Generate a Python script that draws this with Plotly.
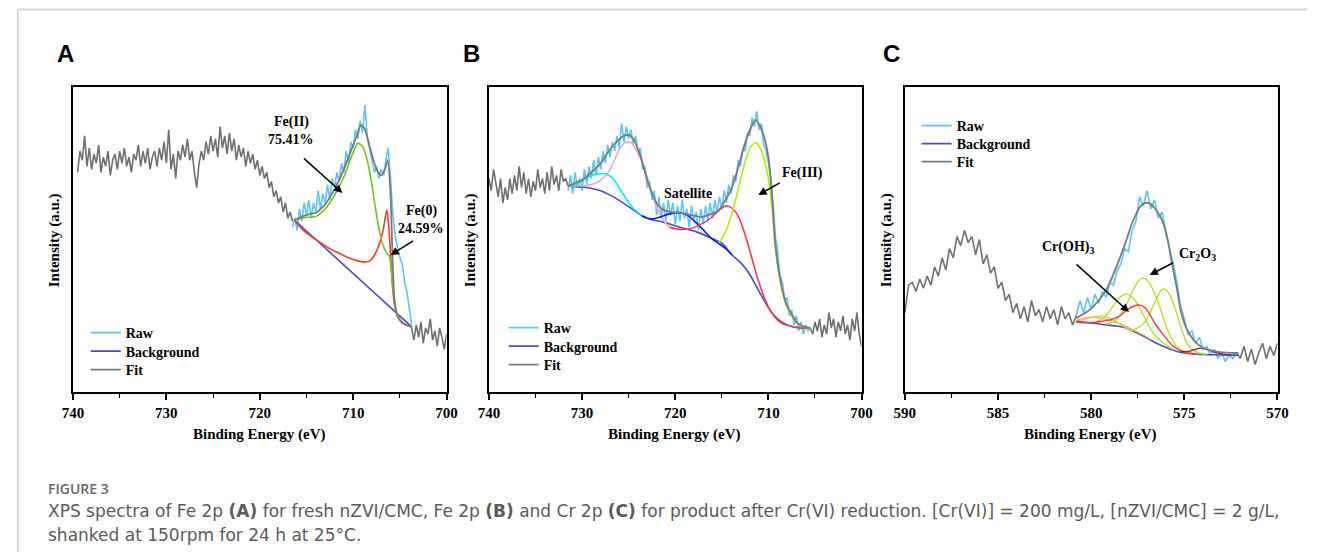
import plotly.graph_objects as go

W, H = 1318, 552

# ---------------- DATA ----------------
# Panel A (Fe 2p, fresh nZVI/CMC)
A_SURV_LEFT_E0, A_STEP = 739.5, -0.25
A_SURV_LEFT = [72,79,76,84,74,80,73,78,75,81, 72,77,74,79,71,76,78,73,79,75,
               80,74,77,72,78,76,81,74,79,75, 80,73,77,79,74,80,76,82,75,86,
               73,78,70,79,76,81,77,83,76,79, 72,67,75,79,76,82,78,84,79,83,
               77,87,80,84,78,85,79,83,76,81, 77,80,74,79,75,78,73,76,71,74,
               70,72,67,69,64,66,62,64,59,62, 57,59,56]
A_RAW_E0 = 716.5
A_RAW = [54,57,53,60,56,62,58,63,57,62, 59,66,60,65,62,68,63,70,67,72,
         69,75,72,79,75,82,80,86,83,89, 85,94,84,80,76,72,74,70,73,71,
         76,80,70,58,51,47,44,42,36,33, 27,22]
A_SURV_RIGHT_E0 = 703.75
A_SURV_RIGHT = [21,17,22,18,23,16,21,19,24,17,20,15,21,18,14,19]

A_BG_E = [716.3, 703.7]
A_BG = [56.4, 21.3]
A_FIT_E = [716.3,715.5,714.5,714.0,713.0,712.0,711.0,710.0,709.5,709.2,708.8,708.2,707.5,707.0,706.6,706.3,706.0,705.8,705.6,705.3,704.8,704.2,703.7]
A_FIT = [56.4,57.5,58.5,58.7,61.5,66.5,73,81,85,87.5,86.5,80,73,71,73,76,65,45,31,25,22.8,21.8,21.3]
A_FE2_E = [716.3,715.5,714.5,714.0,713.0,712.0,711.0,710.2,709.5,709.0,708.5,708.0,707.6,707.2,706.8,706.4,706.1,705.8,705.5,705.2,704.8,704.3,703.7]
A_FE2 = [56.4,57,57.4,57.5,60,64.5,70.5,77,81.6,80.5,76,68,60,53,48,45.5,44.3,36,28,25,23,22,21.3]
A_FE0_E = [716.3,715.5,714.5,713.5,712.5,711.5,710.5,709.5,708.7,708.2,707.7,707.2,706.8,706.4,706.2,706.0,705.8,705.6,705.3,704.8,704.2,703.7]
A_FE0 = [56.4,53.5,51,49,47,45.5,44,43,42.6,43,45,48.5,53,59.7,55,45,35,29,25.5,23,21.8,21.3]

# Panel B (Fe 2p after Cr(VI) reduction)
B_SURV_LEFT_E0 = 740.0
B_SURV_LEFT = [70,66,73,68,64,70,62,67,63,70, 65,71,66,74,67,72,65,70,64,69,
               66,73,67,70,65,72,66,74,68,71, 66,73,69,70,67.5]
B_RAW_E0 = 731.5
B_RAW = [66,71,65,72,67,70,66,73,68,74, 70,76,71,77,73,79,75,81,77,82,
         79,84,80,88,82,87,83,86,81,84, 78,80,73,74,67,69,63,66,58,64,
         57,62,56,63,58,62,55,61,56,63, 57,60,54,61,56,59,53,60,55,61,
         56,62,57,63,59,64,60,66,62,68, 65,71,69,76,74,80,79,85,84,90,
         87,92,86,88,81,79,75,70,62,51, 46,38,36,30,31,25,27,22,25,20,
         23,19,22,20,21]
B_SURV_RIGHT_E0 = 705.5
B_SURV_RIGHT = [21,19,23,20,24,18,22,19,26,21,24,18,23,20,25,19,22,17,24,20,26,19,15]

B_BG_E = [731.5,730.0,728.0,726.6,725.0,723.7,722.5,721.3,719.5,717.7,716.4,715.0,713.9,713.0,712.1,711.0,710.3,709.5,708.6,707.5,706.5,705.5]
B_BG = [67.5,67.2,66.0,63.9,60.8,58.0,56.5,55.7,54.0,52.5,50.8,48.8,44.9,42.5,39,33,29.2,25.5,23,21.5,21,21]
B_FIT_E = [731.5,730.8,730.0,729.0,728.0,727.2,726.3,725.5,725.0,724.4,723.7,723.1,722.5,721.9,721.3,720.4,719.5,718.3,717.1,716.2,715.3,714.6,713.9,713.2,712.5,711.9,711.4,711.0,710.5,710.0,709.6,709.3,709.0,708.6,708.1,707.6,707.0,706.3,705.5]
B_FIT = [67.5,68.5,69.5,72,75,78.7,82,84,84.3,82.5,77,70.5,65.2,61.5,59.8,59,58.7,58,57.4,58.3,59.7,63,67.2,74,81.6,86.5,89.2,87.8,84,77,64,50,42,35,29,26,23,21.5,21]
B_FE3_E = [715.3,714.6,713.9,713.4,712.9,712.3,711.8,711.3,710.8,710.3,710.0,709.6,709.3,709.0,708.6,708.1,707.6,707.0,706.3,705.5]
B_FE3 = [48.8,52.5,58.7,64.5,71,77.5,80.8,81.6,79.5,74.5,70,60,48.5,41,34.4,28.5,25.5,22.8,21.3,21]
B_RED_E = [720.6,719.5,718.3,717.1,716.4,715.6,714.9,714.4,713.8,713.2,712.6,712.1,711.6,711.1,710.5,710.0,709.3,708.6,707.5,706.5,705.5]
B_RED = [54,53.3,53.6,55.2,56.5,58.7,60.6,61,60,57.4,52.5,47.5,42,36.7,31.5,27.9,24.5,22.6,21.5,21.1,21]
B_CYAN_E = [731.5,730.5,729.7,729.0,728.2,727.4,726.7,726.0,725.3,724.6,723.6]
B_CYAN = [67.5,68.3,69.8,71,71.6,71.5,70,67,63.5,60.5,57.8]
B_SAT_E = [723.6,723.0,722.3,721.5,720.6,719.8,719.2,718.5,717.8,717.1,716.4,715.7,715.0,714.3,713.9]
B_SAT = [57.8,57,56.8,57.5,58.4,58.8,58.6,57.6,55.6,53.5,51.2,49.4,48,46.2,44.9]
B_PINK_E = [731.5,730.5,729.5,728.7,728.0,727.2,726.6,726.0,725.5,724.8,724.3,723.7,723.0,722.0,721.2,720.6,719.5]
B_PINK = [67.5,67.6,67.8,68.3,69.5,72,75.5,79.5,81.5,82,80,76.5,70.5,60.7,56,54,53.1]

# Panel C (Cr 2p)
C_SURV_LEFT_E0, C_STEP = 590.0, -0.2
C_SURV_LEFT = [26,35,36,33,37,34,38,35,41,38, 44,40,47,44,51,48,53,49,51,45,
               50,42,45,39,41,34,36,30,32,26, 29,24,28,23,30,25,27,23,28,24,
               27,22,28,24,26,22,25]
C_RAW_E0 = 580.8
C_RAW = [25,30,26,31,27,32,29,33,31,36, 35,40,42,47,46,53,56,64,61,66,
         60,63,57,59,53,48,42,36,28,24, 19,20,16,18,14,15,12,14,11,13,
         10,12,11,13]
C_SURV_RIGHT_E0 = 572.2
C_SURV_RIGHT = [13,11,15,10,14,9,13,16,11,15,12,16]

C_BG_E = [580.8,580.0,579.2,578.3,577.7,577.1,576.5,575.9,575.4,575.0,574.3,573.5,572.1]
C_BG = [23,22.6,22,21.3,19.8,18,16,14.4,13.3,12.8,12.4,12.2,12.1]
C_FIT_E = [580.8,580.3,579.9,579.2,578.5,578.1,577.8,577.4,577.1,576.8,576.5,576.2,575.9,575.7,575.4,575.2,574.9,574.5,574.0,573.1,572.1]
C_FIT = [24.3,26,27.9,33.4,43.3,50,55.4,60.5,62,61.6,59.5,56.4,50,43.3,34,26.9,21,17,14.5,13.1,12.8]
C_G1_E = [579.2,578.7,578.3,578.0,577.7,577.4,577.2,576.9,576.6,576.3,576.0,575.7,575.4,575.0,574.5]
C_G1 = [22.2,23.5,26.5,30,34,36.8,37.4,36,32.5,27.5,22,17.8,14.8,13.2,12.6]
C_G2_E = [577.9,577.5,577.1,576.8,576.5,576.3,576.1,575.8,575.5,575.2,574.9,574.6,574.2,573.8]
C_G2 = [20,21,23,26.5,30.5,33,33.8,32,27.5,21.5,16.5,14,12.8,12.4]
C_G3_E = [579.8,579.3,578.9,578.5,578.1,577.7,577.4,577.1,576.8,576.5,576.1,575.6]
C_G3 = [22.8,24.5,27.5,30.8,32.1,30.5,27.5,24,20.5,18,16,14]
C_G4_E = [580.8,580.2,579.7,579.4,579.0,578.6,578.2,577.8]
C_G4 = [23.3,24,24.8,24.9,24.2,22.8,21.3,20]
C_OR_E = [580.8,580.3,579.8,579.3,578.8,578.3,577.8,577.3,576.8]
C_OR = [23.5,24.3,24.5,24,23,22,20.5,19,17.2]
C_RED_E = [580.8,580.0,579.4,578.9,578.5,578.1,577.7,577.4,577.1,576.8,576.5,576.2,575.9,575.6,575.2,574.8,574.3]
C_RED = [23.2,22.8,23.2,23.8,24.8,26.8,28.2,28.5,27.6,24.8,21.8,19.3,17,15,13.6,12.8,12.4]
C_SMALL_E = [575.2,574.8,574.4,574.1,573.8,573.4,573.0,572.5]
C_SMALL = [13.3,13.3,14,14.4,14,13.1,12.5,12.2]

LEGEND_NAMES = ["Raw", "Background", "Fit"]
X_TICKS_FE = [740, 730, 720, 710, 700]
X_TICKS_CR = [590, 585, 580, 575, 570]

# ---------------- STYLE ----------------
SERIF = "Liberation Serif"
C_RAWCOL = "#5cc6f2"
C_BGCOL = "#4b4bc4"
C_FITCOL = "#7a7a7a"
C_SURV = "#6f6f6f"

# legend rows (pixel positions): panel -> (line start x, [row centre y])
LEG_POS = {"A": (83, [333, 351.5, 370]),
           "B": (508, [328, 346.5, 365]),
           "C": (928, [126, 144, 162])}


def grid(e0, step, n):
    return [round(e0 + step * i, 3) for i in range(n)]


def px(x):
    return x / W


def py(y):
    return 1 - y / H


fig = go.Figure()
legend_layout = {}
leg_counter = [0]


def add(xs, ys, color, xa, ya, name=None, panel=None, width=1.6, shape="linear", smooth=0.0):
    kw = dict(x=xs, y=ys, mode="lines", xaxis=xa, yaxis=ya,
              line=dict(color=color, width=width, shape=shape),
              hoverinfo="skip")
    if shape == "spline":
        kw["line"]["smoothing"] = smooth
    if name:
        leg_counter[0] += 1
        key = "legend" if leg_counter[0] == 1 else "legend%d" % leg_counter[0]
        lx, rows = LEG_POS[panel]
        ry = rows[LEGEND_NAMES.index(name)]
        legend_layout[key] = dict(x=px(lx - 7), y=py(ry), xanchor="left", yanchor="middle",
                                  bgcolor="rgba(0,0,0,0)", borderwidth=0,
                                  font=dict(family=SERIF, size=14, color="black", weight="bold"),
                                  itemwidth=30)
        kw.update(name=name, showlegend=True, legend=key)
    else:
        kw.update(showlegend=False)
    fig.add_trace(go.Scatter(**kw))


# Panel A
add(grid(A_SURV_LEFT_E0, A_STEP, len(A_SURV_LEFT)), A_SURV_LEFT, C_SURV, "x", "y")
add(grid(A_SURV_RIGHT_E0, A_STEP, len(A_SURV_RIGHT)), A_SURV_RIGHT, C_SURV, "x", "y")
add(grid(A_RAW_E0, A_STEP, len(A_RAW)), A_RAW, C_RAWCOL, "x", "y", LEGEND_NAMES[0], "A")
add(A_BG_E, A_BG, C_BGCOL, "x", "y", LEGEND_NAMES[1], "A")
add(A_FE0_E, A_FE0, "#f03c2e", "x", "y", shape="spline", smooth=0.6)
add(A_FE2_E, A_FE2, "#7dbf22", "x", "y", shape="spline", smooth=0.6)
add(A_FIT_E, A_FIT, C_FITCOL, "x", "y", LEGEND_NAMES[2], "A", width=1.8, shape="spline", smooth=0.6)

# Panel B
add(grid(B_SURV_LEFT_E0, A_STEP, len(B_SURV_LEFT)), B_SURV_LEFT, C_SURV, "x2", "y2")
add(grid(B_SURV_RIGHT_E0, A_STEP, len(B_SURV_RIGHT)), B_SURV_RIGHT, C_SURV, "x2", "y2")
add(grid(B_RAW_E0, A_STEP, len(B_RAW)), B_RAW, C_RAWCOL, "x2", "y2", LEGEND_NAMES[0], "B")
add(B_BG_E, B_BG, C_BGCOL, "x2", "y2", LEGEND_NAMES[1], "B", shape="spline", smooth=0.8)
add(B_PINK_E, B_PINK, "#f4a3cc", "x2", "y2", shape="spline", smooth=0.8)
add(B_CYAN_E, B_CYAN, "#00e8f8", "x2", "y2", shape="spline", smooth=0.8)
add(B_SAT_E, B_SAT, "#0a1ae8", "x2", "y2", shape="spline", smooth=0.8)
add(B_RED_E, B_RED, "#f23a55", "x2", "y2", shape="spline", smooth=0.8)
add(B_FE3_E, B_FE3, "#b4ec12", "x2", "y2", shape="spline", smooth=0.8)
add(B_FIT_E, B_FIT, C_FITCOL, "x2", "y2", LEGEND_NAMES[2], "B", width=1.8, shape="spline", smooth=0.8)

# Panel C
add(grid(C_SURV_LEFT_E0, C_STEP, len(C_SURV_LEFT)), C_SURV_LEFT, C_SURV, "x3", "y3")
add(grid(C_SURV_RIGHT_E0, C_STEP, len(C_SURV_RIGHT)), C_SURV_RIGHT, C_SURV, "x3", "y3")
add(grid(C_RAW_E0, C_STEP, len(C_RAW)), C_RAW, C_RAWCOL, "x3", "y3", LEGEND_NAMES[0], "C")
add(C_BG_E, C_BG, C_BGCOL, "x3", "y3", LEGEND_NAMES[1], "C", shape="spline", smooth=0.8)
add(C_OR_E, C_OR, "#f5a65a", "x3", "y3", shape="spline", smooth=0.8, width=1.3)
add(C_G4_E, C_G4, "#e0d040", "x3", "y3", shape="spline", smooth=0.8, width=1.3)
add(C_G3_E, C_G3, "#b6e02a", "x3", "y3", shape="spline", smooth=0.8, width=1.4)
add(C_G1_E, C_G1, "#b6e02a", "x3", "y3", shape="spline", smooth=0.8, width=1.4)
add(C_G2_E, C_G2, "#b6e02a", "x3", "y3", shape="spline", smooth=0.8, width=1.4)
add(C_RED_E, C_RED, "#f03a3a", "x3", "y3", shape="spline", smooth=0.8, width=1.4)
add(C_SMALL_E, C_SMALL, "#8b1c4c", "x3", "y3", shape="spline", smooth=0.8, width=1.3)
add(C_FIT_E, C_FIT, C_FITCOL, "x3", "y3", LEGEND_NAMES[2], "C", width=1.8, shape="spline", smooth=0.8)

# ---------------- AXES ----------------
tickfont = dict(family=SERIF, size=15, color="black", weight="bold")
ydom = [py(392), py(87)]
panels = [("", 63, 443, [740, 700], X_TICKS_FE, 5),
          ("2", 486, 865, [740, 700], X_TICKS_FE, 5),
          ("3", 909, 1288, [590, 570], X_TICKS_CR, 2.5)]
for sfx, x0, x1, rng, ticks, minor in panels:
    fig.update_layout(**{
        "xaxis" + sfx: dict(domain=[px(x0), px(x1)], range=rng, anchor="y" + sfx,
                            showline=True, mirror=True, linecolor="black", linewidth=1.5,
                            ticks="outside", ticklen=6, tickwidth=1.5, tickcolor="black",
                            tickvals=ticks, ticktext=[str(t) for t in ticks],
                            minor=dict(dtick=minor, ticks="outside", ticklen=4, tickwidth=1.2,
                                       tickcolor="black"),
                            showgrid=False, zeroline=False, tickfont=tickfont),
        "yaxis" + sfx: dict(domain=ydom, range=[0, 100], anchor="x" + sfx,
                            showline=True, mirror=True, linecolor="black", linewidth=1.5,
                            ticks="", showticklabels=False, showgrid=False, zeroline=False),
    })

# ---------------- TEXT ----------------
ann = []


def text(x, y, s, size=14, family=SERIF, weight="bold", color="black", xanchor="center",
         textangle=0):
    ann.append(dict(x=px(x), y=py(y), xref="paper", yref="paper", text=s, showarrow=False,
                    xanchor=xanchor, yanchor="middle", textangle=textangle,
                    font=dict(family=family, size=size, color=color, weight=weight)))


def arrow(hx, hy, tx, ty):
    ann.append(dict(x=px(hx), y=py(hy), xref="paper", yref="paper", text="", showarrow=True,
                    ax=tx - hx, ay=ty - hy, arrowhead=2, arrowsize=1.1, arrowwidth=1.5,
                    arrowcolor="black"))


# panel letters
for lx, letter in [(55, "A"), (468, "B"), (895, "C")]:
    text(lx, 54, letter, size=24, family="Liberation Sans", weight="bold")

# axis titles
for cx in [253, 675, 1098]:
    text(cx, 435, "Binding Energy (eV)", size=15)
for cx in [45, 468, 891]:
    text(cx, 240, "Intensity (a.u.)", size=15, textangle=-90)

# peak labels
text(285, 122, "Fe(II)")
text(285, 139, "75.41%")
arrow(337, 193, 297, 157)
text(417, 211, "Fe(0)")
text(417, 228, "24.59%")
arrow(386, 255, 410, 240)
text(689, 193, "Satellite")
text(805, 173, "Fe(III)")
arrow(760, 195, 783, 182)
text(1075, 247, "Cr(OH)<sub>3</sub>")
arrow(1137, 312, 1083, 263)
text(1207, 255, "Cr<sub>2</sub>O<sub>3</sub>")
arrow(1158, 275, 1183, 262)

# caption
CAP = "DejaVu Sans"
text(36, 488, "FIGURE 3", size=14, family="Open Sans", weight=600, color="#666666", xanchor="left")
text(36, 511, "XPS spectra of Fe 2p <b>(A)</b> for fresh nZVI/CMC, Fe 2p <b>(B)</b> and Cr 2p <b>(C)</b> "
     "for product after Cr(VI) reduction. [Cr(VI)] = 200 mg/L, [nZVI/CMC] = 2 g/L,",
     size=17, family=CAP, weight="normal", color="#5a5a5a", xanchor="left")
text(36, 535, "shanked at 150rpm for 24 h at 25°C.", size=17, family=CAP, weight="normal",
     color="#5a5a5a", xanchor="left")

# outer frame lines
shapes = [
    dict(type="line", xref="paper", yref="paper", x0=px(7), x1=1, y0=py(9.5), y1=py(9.5),
         line=dict(color="#d6d6d6", width=2)),
    dict(type="line", xref="paper", yref="paper", x0=px(7), x1=px(7), y0=py(9.5), y1=0,
         line=dict(color="#d6d6d6", width=2)),
]

fig.update_layout(width=W, height=H, margin=dict(l=0, r=0, t=0, b=0),
                  paper_bgcolor="white", plot_bgcolor="white",
                  annotations=ann, shapes=shapes, showlegend=True, **legend_layout)

fig.write_html("out.html")
